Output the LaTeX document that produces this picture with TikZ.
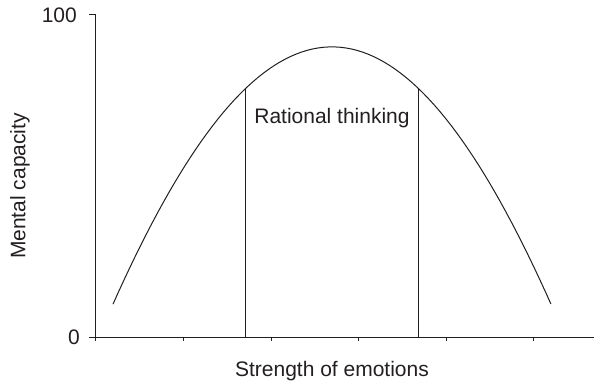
\documentclass[tikz,border=0pt]{standalone}
\usepackage{fontspec}
\setmainfont{Liberation Sans}
\definecolor{chartInk}{HTML}{231F20}
\usetikzlibrary{positioning}

\begin{document}
\begin{tikzpicture}[
    x=87.5pt, y=3.22pt,
    axis/.style={draw=chartInk, line width=1pt},
    curve/.style={draw=chartInk, line width=1pt, line join=round},
    lbl/.style={text=chartInk, font=\fontsize{21}{25}\selectfont, inner sep=0pt},
  ]
    \useasboundingbox (-96pt,-46pt) rectangle (498pt,337pt);

    \coordinate (origin) at (0,0);
    \coordinate (ytop) at (0,100);
    \coordinate (xend) at (498pt,0);
    \coordinate (leftfoot) at (1.714,0);
    \coordinate (rightfoot) at (3.680,0);
    \coordinate (lefthit) at (1.714,77.3);
    \coordinate (righthit) at (3.680,77.3);

    \draw[axis] (ytop) -- (origin) -- (xend);
    \draw[axis] (ytop) -- ++(-7pt,0);
    \draw[axis] (origin) -- ++(-7pt,0);
    \foreach \t in {0,...,5}
      \draw[axis] (\t,0) -- ++(0,-4pt);

    \node[lbl, anchor=east] (ymax) at (-19pt,100) {100};
    \node[lbl, anchor=east] (ymin) at (-16pt,0) {0};
    \node[lbl, rotate=90] (ylabel) at (-76pt,46.9) {Mental capacity};
    \node[lbl] (xlabel) at (2.697,-34pt) {Strength of emotions};
    \node[lbl] (zone) at (2.697,68) {Rational thinking};

    \draw[curve] plot[domain=0.194:5.2, samples=80]
      (\x, {90.1 - 13.34*(\x-2.697)^2 + 0.0934*(\x-2.697)^4});

    \draw[axis] (leftfoot) -- (lefthit);
    \draw[axis] (rightfoot) -- (righthit);
  \end{tikzpicture}
\end{document}
